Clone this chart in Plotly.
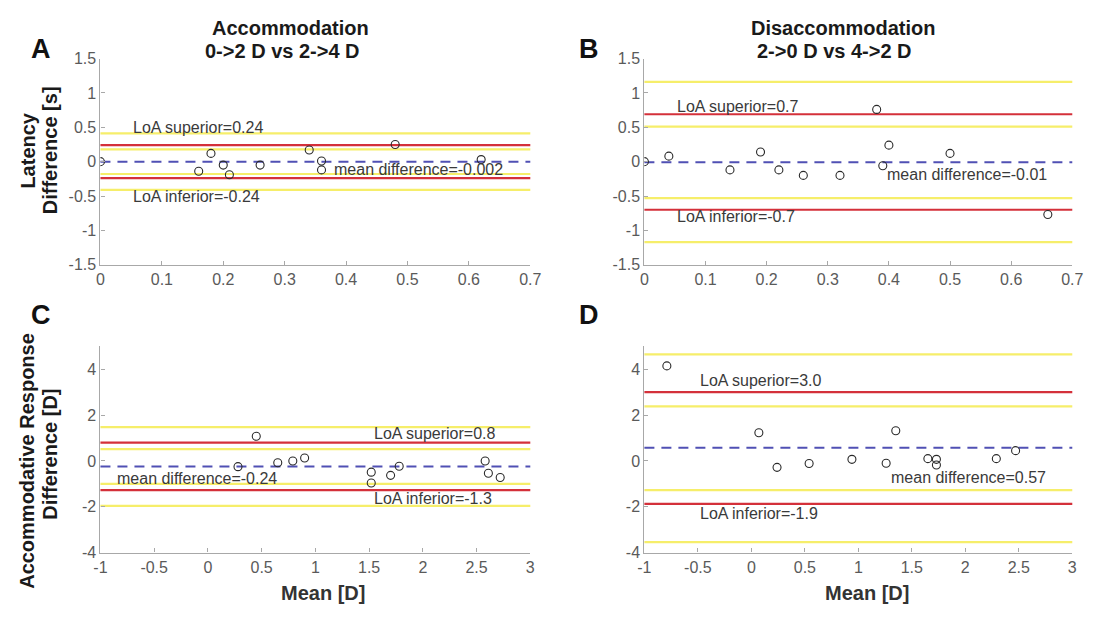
import plotly.graph_objects as go

# ---------------- data ----------------
# Panel A: Latency, accommodation
a_x = [0.0, 0.16, 0.18, 0.20, 0.21, 0.26, 0.34, 0.36, 0.36, 0.48, 0.62]
a_y = [0.0, -0.14, 0.12, -0.05, -0.19, -0.05, 0.17, 0.01, -0.12, 0.25, 0.03]
a_mean = -0.002
a_loa = [0.24, -0.24]
a_ci = [0.41, 0.18, -0.18, -0.41]

# Panel B: Latency, disaccommodation
b_x = [0.0, 0.04, 0.14, 0.19, 0.22, 0.26, 0.32, 0.38, 0.39, 0.40, 0.50, 0.66]
b_y = [0.0, 0.08, -0.12, 0.14, -0.12, -0.20, -0.20, 0.76, -0.06, 0.24, 0.12, -0.77]
b_mean = -0.01
b_loa = [0.69, -0.70]
b_ci = [1.16, 0.51, -0.53, -1.17]

# Panel C: Accommodative response, accommodation
c_x = [0.28, 0.45, 0.65, 0.79, 0.90, 1.52, 1.52, 1.70, 1.78, 2.58, 2.61, 2.72]
c_y = [-0.25, 1.08, -0.08, 0.0, 0.13, -0.49, -0.96, -0.63, -0.23, 0.0, -0.54, -0.72]
c_mean = -0.24
c_loa = [0.80, -1.27]
c_ci = [1.48, 0.52, -1.00, -1.96]

# Panel D: Accommodative response, disaccommodation
d_x = [-0.79, 0.07, 0.24, 0.54, 0.94, 1.26, 1.35, 1.65, 1.73, 1.73, 2.29, 2.47]
d_y = [4.15, 1.23, -0.28, -0.11, 0.07, -0.10, 1.32, 0.10, 0.07, -0.18, 0.10, 0.45]
d_mean = 0.58
d_loa = [3.0, -1.87]
d_ci = [4.65, 2.38, -1.27, -3.54]

# labels
a_labels = ["LoA superior=0.24", "LoA inferior=-0.24", "mean difference=-0.002"]
b_labels = ["LoA superior=0.7", "LoA inferior=-0.7", "mean difference=-0.01"]
c_labels = ["LoA superior=0.8", "LoA inferior=-1.3", "mean difference=-0.24"]
d_labels = ["LoA superior=3.0", "LoA inferior=-1.9", "mean difference=0.57"]

# label anchor positions (data coords): sup, inf, mean
a_label_pos = [(0.05, 0.50), (0.05, -0.50), (0.377, -0.12)]
b_label_pos = [(0.05, 0.80), (0.05, -0.80), (0.394, -0.18)]
c_label_pos = [(1.53, 1.18), (1.53, -1.66), (-0.86, -0.75)]
d_label_pos = [(-0.5, 3.5), (-0.5, -2.3), (1.29, -0.72)]

# ticks
lat_xticks = [0, 0.1, 0.2, 0.3, 0.4, 0.5, 0.6, 0.7]
lat_xtext = ["0", "0.1", "0.2", "0.3", "0.4", "0.5", "0.6", "0.7"]
lat_yticks = [-1.5, -1, -0.5, 0, 0.5, 1, 1.5]
lat_ytext = ["-1.5", "-1", "-0.5", "0", "0.5", "1", "1.5"]
acc_xticks = [-1, -0.5, 0, 0.5, 1, 1.5, 2, 2.5, 3]
acc_xtext = ["-1", "-0.5", "0", "0.5", "1", "1.5", "2", "2.5", "3"]
acc_yticks = [-4, -2, 0, 2, 4]
acc_ytext = ["-4", "-2", "0", "2", "4"]

lat_xrange = [0, 0.7]
lat_yrange = [-1.5, 1.5]
acc_xrange = [-1, 3]
acc_yrange = [-4, 5]

# ---------------- style ----------------
W, H = 1100, 617
FONT = "Liberation Sans, Arial, sans-serif"
AXC = "#a8a8a8"
TICKC = "#5a5a5a"
RED = "#d4303a"
YEL = "#f6ee6a"
BLUE = "#5050b4"

def px_x(p):
    return p / W

def px_y(p):
    return 1 - p / H

fig = go.Figure()

panels = [
    ("x", "y", a_x, a_y, a_mean, a_loa, a_ci, a_labels, a_label_pos),
    ("x2", "y2", b_x, b_y, b_mean, b_loa, b_ci, b_labels, b_label_pos),
    ("x3", "y3", c_x, c_y, c_mean, c_loa, c_ci, c_labels, c_label_pos),
    ("x4", "y4", d_x, d_y, d_mean, d_loa, d_ci, d_labels, d_label_pos),
]

shapes = []
annotations = []
for xr, yr, xs, ys, mean, loa, ci, labels, lpos in panels:
    for v in ci:
        shapes.append(dict(type="line", xref=xr + " domain", yref=yr, x0=0, x1=1,
                           y0=v, y1=v, line=dict(color=YEL, width=2.2), layer="below"))
    for v in loa:
        shapes.append(dict(type="line", xref=xr + " domain", yref=yr, x0=0, x1=1,
                           y0=v, y1=v, line=dict(color=RED, width=2.2), layer="below"))
    shapes.append(dict(type="line", xref=xr + " domain", yref=yr, x0=0, x1=1,
                       y0=mean, y1=mean, line=dict(color=BLUE, width=2, dash="10px,7px"),
                       layer="below"))
    fig.add_trace(go.Scatter(x=xs, y=ys, xaxis=xr, yaxis=yr, mode="markers",
                             marker=dict(symbol="circle-open", size=8,
                                         color="#2a2a2a", line=dict(width=1.1)),
                             showlegend=False, hoverinfo="skip"))
    for txt, (tx, ty) in zip(labels, lpos):
        annotations.append(dict(text=txt, x=tx, y=ty, xref=xr, yref=yr,
                                xanchor="left", yanchor="middle", showarrow=False,
                                font=dict(family=FONT, size=16, color="#3a3a3a")))

# titles
def paper_text(txt, x, y, size, bold=True, angle=0, color="#1a1a1a", xanchor="center"):
    annotations.append(dict(text=("<b>%s</b>" % txt) if bold else txt,
                            x=px_x(x), y=px_y(y), xref="paper", yref="paper",
                            xanchor=xanchor, yanchor="middle", showarrow=False,
                            textangle=angle,
                            font=dict(family=FONT, size=size, color=color)))

paper_text("Accommodation", 288, 21, 20)
paper_text("0->2 D vs 2->4 D", 280, 44, 20)
paper_text("Disaccommodation", 850, 21, 20)
paper_text("2->0 D vs 4->2 D", 841, 44, 20)

paper_text("A", 22, 42, 27, color="#111111", xanchor="left")
paper_text("B", 579, 42, 27, color="#111111", xanchor="left")
paper_text("C", 22, 316, 27, color="#111111", xanchor="left")
paper_text("D", 579, 316, 27, color="#111111", xanchor="left")

paper_text("Latency", 21, 147, 20, angle=-90)
paper_text("Difference [s]", 44, 146, 20, angle=-90)
paper_text("Accommodative Response", 21, 466, 20, angle=-90)
paper_text("Difference [D]", 44, 459, 20, angle=-90)

paper_text("Mean [D]", 321, 602, 20, color="#333333")
paper_text("Mean [D]", 874, 602, 20, color="#333333")

xdom_l = [px_x(95), px_x(532)]
xdom_r = [px_x(648), px_x(1083)]
ydom_t = [px_y(264), px_y(52)]
ydom_b = [px_y(560), px_y(348)]

def axis(domain, rng, tv, tt, anchor):
    return dict(domain=domain, range=rng, tickvals=tv, ticktext=tt, anchor=anchor,
                showline=True, linecolor=AXC, linewidth=1.2, ticks="inside",
                ticklen=4, tickcolor=AXC, tickwidth=1.2, showgrid=False,
                zeroline=False, tickfont=dict(family=FONT, size=16, color=TICKC),
                fixedrange=True)

fig.update_layout(
    width=W, height=H,
    margin=dict(l=0, r=0, t=0, b=0),
    paper_bgcolor="white", plot_bgcolor="white",
    showlegend=False,
    xaxis=axis(xdom_l, lat_xrange, lat_xticks, lat_xtext, "y"),
    yaxis=axis(ydom_t, lat_yrange, lat_yticks, lat_ytext, "x"),
    xaxis2=axis(xdom_r, lat_xrange, lat_xticks, lat_xtext, "y2"),
    yaxis2=axis(ydom_t, lat_yrange, lat_yticks, lat_ytext, "x2"),
    xaxis3=axis(xdom_l, acc_xrange, acc_xticks, acc_xtext, "y3"),
    yaxis3=axis(ydom_b, acc_yrange, acc_yticks, acc_ytext, "x3"),
    xaxis4=axis(xdom_r, acc_xrange, acc_xticks, acc_xtext, "y4"),
    yaxis4=axis(ydom_b, acc_yrange, acc_yticks, acc_ytext, "x4"),
    shapes=shapes,
    annotations=annotations,
)

fig.write_html("out.html")
